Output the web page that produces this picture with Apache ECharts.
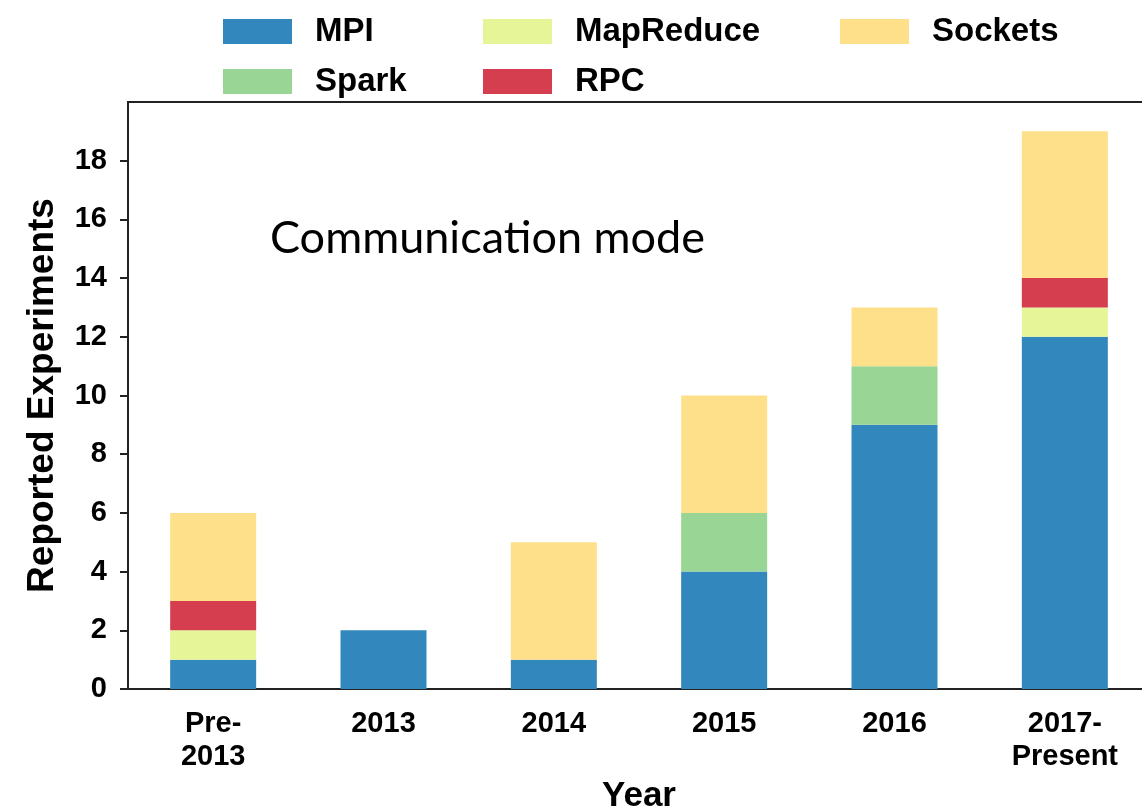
<!DOCTYPE html>
<html>
<head>
<meta charset="utf-8">
<script src="https://cdn.jsdelivr.net/npm/echarts@6/dist/echarts.min.js"></script>
<style>
  html, body { margin: 0; padding: 0; background: #fff; }
  #chart { width: 1142px; height: 811px; }
</style>
</head>
<body>
<div id="chart"></div>
<script>
// categories and counts per communication mode (stacked, bottom to top)
var years = ["Pre-\n2013", "2013", "2014", "2015", "2016", "2017-\nPresent"];
var mpi = [1, 2, 1, 4, 9, 12];
var spark = [0, 0, 0, 2, 2, 0];
var mapReduce = [1, 0, 0, 0, 0, 1];
var rpc = [1, 0, 0, 0, 0, 1];
var sockets = [3, 0, 4, 4, 2, 5];
var yTicks = [0, 2, 4, 6, 8, 10, 12, 14, 16, 18];

var chart = echarts.init(document.getElementById("chart"));
var font = "'Liberation Sans', Arial, sans-serif";
var axisColor = "#222";

function bar(name, data, color) {
  return {
    name: name,
    type: "bar",
    stack: "total",
    barWidth: 86,
    data: data,
    itemStyle: { color: color },
  };
}

function legendAt(name, left, top) {
  return {
    data: [name],
    left: left,
    top: top,
    itemWidth: 69,
    itemHeight: 25,
    selectedMode: false,
    icon: "rect",
    textStyle: {
      fontFamily: font,
      fontWeight: "bold",
      fontSize: 33,
      color: "#000",
      padding: [0, 0, 0, 18],
    },
  };
}

var option = {
  animation: false,
  title: {
    text: "Communication mode",
    left: 265,
    top: 211,
    textStyle: {
      fontFamily: "Lato, 'Open Sans', sans-serif",
      fontWeight: "normal",
      fontSize: 45,
      color: "#000",
    },
  },
  legend: [
    legendAt("MPI", 218, 10),
    legendAt("MapReduce", 478, 10),
    legendAt("Sockets", 835, 10),
    legendAt("Spark", 218, 60),
    legendAt("RPC", 478, 60),
  ],
  grid: {
    left: 128,
    top: 102,
    bottom: 122,
    width: 1022,
    outerBoundsMode: "none",
    containLabel: false,
    show: true,
    borderColor: axisColor,
    borderWidth: 2,
  },
  xAxis: {
    type: "category",
    data: years,
    name: "Year",
    nameLocation: "middle",
    nameGap: 90,
    nameTextStyle: {
      fontFamily: font,
      fontWeight: "bold",
      fontSize: 35,
      color: "#000",
    },
    axisLine: { lineStyle: { color: axisColor, width: 2 } },
    axisTick: { alignWithLabel: true, length: 9, lineStyle: { color: axisColor, width: 2 } },
    axisLabel: {
      margin: 18,
      fontFamily: font,
      fontWeight: "bold",
      fontSize: 29,
      lineHeight: 33,
      color: "#000",
    },
  },
  yAxis: {
    type: "value",
    min: 0,
    max: 20,
    interval: 2,
    name: "Reported Experiments",
    nameLocation: "middle",
    nameRotate: 90,
    nameGap: 67,
    nameTextStyle: {
      fontFamily: font,
      fontWeight: "bold",
      fontSize: 37,
      color: "#000",
    },
    splitLine: { show: false },
    axisLine: { show: true, lineStyle: { color: axisColor, width: 2 } },
    axisTick: { show: true, length: 8, customValues: yTicks, lineStyle: { color: axisColor, width: 2 } },
    axisLabel: {
      margin: 21,
      customValues: yTicks,
      fontFamily: font,
      fontWeight: "bold",
      fontSize: 29,
      color: "#000",
    },
  },
  series: [
    bar("MPI", mpi, "#3288bd"),
    bar("Spark", spark, "#99d594"),
    bar("MapReduce", mapReduce, "#e6f598"),
    bar("RPC", rpc, "#d53e4f"),
    bar("Sockets", sockets, "#fee08b"),
  ],
};

chart.setOption(option);
window.addEventListener("resize", function () {
  chart.resize();
});
</script>
</body>
</html>
